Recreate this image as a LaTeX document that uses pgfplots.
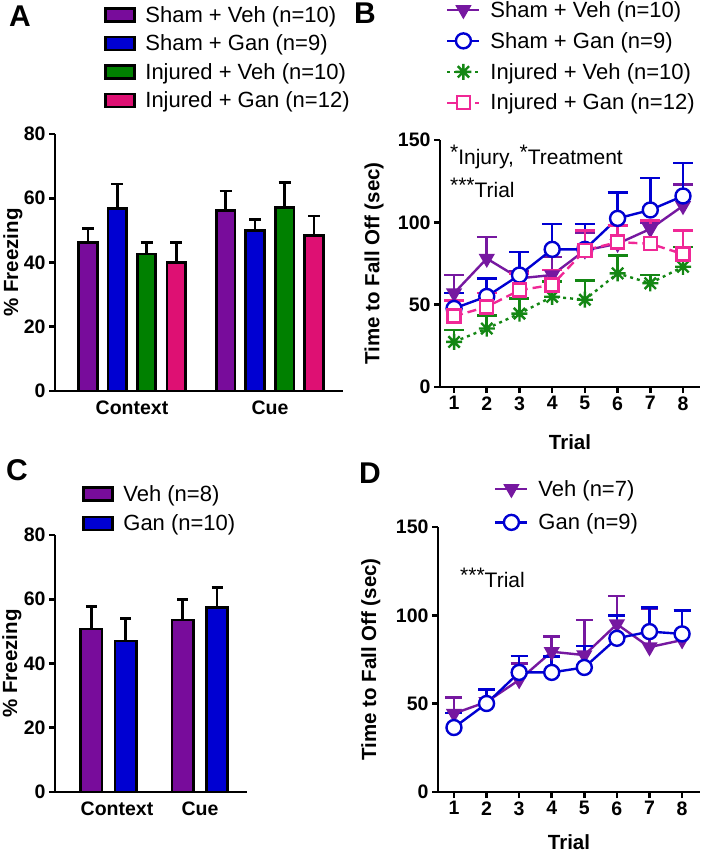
\documentclass[border=0pt]{standalone}
\usepackage{pgfplots}
\pgfplotsset{compat=1.18}
\usepackage{fontspec}
\setmainfont{Liberation Sans}
\definecolor{cpur}{RGB}{120,12,155}
\definecolor{cblu}{RGB}{0,0,210}
\definecolor{cgrn}{RGB}{0,128,0}
\definecolor{cpnk}{RGB}{222,16,115}
\definecolor{lpur}{RGB}{118,24,160}
\definecolor{lpnk}{RGB}{240,40,150}
\definecolor{lgrn}{RGB}{20,135,20}
\pgfdeclareplotmark{star8}{%
 \pgfpathmoveto{\pgfqpoint{-\pgfplotmarksize}{0pt}}\pgfpathlineto{\pgfqpoint{\pgfplotmarksize}{0pt}}%
 \pgfpathmoveto{\pgfqpoint{0pt}{-\pgfplotmarksize}}\pgfpathlineto{\pgfqpoint{0pt}{\pgfplotmarksize}}%
 \pgfpathmoveto{\pgfqpoint{-.707\pgfplotmarksize}{-.707\pgfplotmarksize}}\pgfpathlineto{\pgfqpoint{.707\pgfplotmarksize}{.707\pgfplotmarksize}}%
 \pgfpathmoveto{\pgfqpoint{-.707\pgfplotmarksize}{.707\pgfplotmarksize}}\pgfpathlineto{\pgfqpoint{.707\pgfplotmarksize}{-.707\pgfplotmarksize}}%
 \pgfusepathqstroke}
\pgfplotsset{
 base/.style={scale only axis, axis lines=left, axis line style={-, line width=2.6pt, black},
   tick style={line width=2.6pt, black}, tick align=outside, major tick length=6pt,
   tick label style={font=\fontsize{19.5}{19.5}\selectfont\bfseries},
   label style={font=\fontsize{20.5}{20.5}\selectfont\bfseries},
   /pgf/number format/assume math mode=true, clip=false,
   legend cell align=left},
 boxlegend/.style={legend image code/.code={\draw[##1, draw=black, line width=2.4pt] (0pt,-6.5pt) rectangle (29pt,6.5pt); \path[draw=none, fill=none] (0pt,0pt) rectangle (38pt,0.1pt);}},
 linelegend/.style={legend image code/.code={\draw[mark repeat=2,mark phase=2,##1] plot coordinates {(0pt,0pt) (16pt,0pt) (32pt,0pt)}; \path[draw=none, fill=none] (0pt,0pt) rectangle (41pt,0.1pt);}},
 errb/.style={/pgfplots/error bars/y dir=plus, /pgfplots/error bars/y explicit,
   /pgfplots/every error bar/.append style={line width=2.6pt, solid},
   /pgfplots/error bars/error bar style={line width=2.6pt, solid},
   /pgfplots/error bars/error mark options={rotate=90, line width=2.6pt, mark size=#1, solid}},
 barp/.style={fill=#1, draw=black, line width=2.6pt, boxlegend},
}
\begin{document}
\begin{tikzpicture}[x=1pt,y=1pt]
\path[use as bounding box] (0,0) rectangle (702,-853);
\node[font=\fontsize{30}{30}\selectfont\bfseries] at (20,-16) {A};
\node[font=\fontsize{30}{30}\selectfont\bfseries] at (365,-13) {B};
\node[font=\fontsize{30}{30}\selectfont\bfseries] at (17,-470) {C};
\node[font=\fontsize{30}{30}\selectfont\bfseries] at (370,-473) {D};

% ---------------- Panel A
\begin{axis}[base, at={(55pt,-391pt)}, anchor=south west, width=288pt, height=257pt,
  xmin=0, xmax=288, ymin=0, ymax=80, ytick={0,20,40,60,80},
  xtick={77,215}, xticklabels={Context,Cue}, x tick style={draw=none},
  ylabel={\% Freezing}, ylabel style={at={(axis description cs:-0.146,0.5)}, anchor=center},
  ybar, bar width=18.5, bar shift=0pt,
  legend style={at={(0,1)}, anchor=north west, xshift=46pt, yshift=132pt, draw=none, fill=none,
    font=\fontsize{22}{22}\selectfont, row sep=7pt}]
\addplot[barp=cpur, errb=6pt] coordinates {(33,46.3) +- (0,4.3) (170.7,56.2) +- (0,6.0)};
\addplot[barp=cblu, errb=6pt] coordinates {(62.3,56.8) +- (0,7.6) (200,50.0) +- (0,3.4)};
\addplot[barp=cgrn, errb=6pt] coordinates {(91.5,42.6) +- (0,3.7) (229.7,57.1) +- (0,7.8)};
\addplot[barp=cpnk, errb=6pt] coordinates {(121.2,40.0) +- (0,6.3) (259,48.4) +- (0,6.1)};
\legend{Sham + Veh (n=10), Sham + Gan (n=9), Injured + Veh (n=10), Injured + Gan (n=12)}
\end{axis}

% ---------------- Panel B
\begin{axis}[base, at={(440pt,-387pt)}, anchor=south west, width=260pt, height=247pt,
  xmin=0.57, xmax=8.52, ymin=0, ymax=150, ytick={0,50,100,150}, xtick={1,...,8},
  xlabel={Trial}, ylabel={Time to Fall Off (sec)},
  ylabel style={at={(axis description cs:-0.254,0.5)}, anchor=center},
  xlabel style={at={(axis description cs:0.5,0)}, anchor=center, yshift=-55pt},
  legend style={at={(0,1)}, anchor=north west, xshift=3pt, yshift=143pt, draw=none, fill=none,
    font=\fontsize{22}{22}\selectfont, row sep=9.5pt}]
\addplot[lpur, line width=2.4pt, mark=triangle*, mark size=7pt, mark options={rotate=180, solid, fill=lpur}, errb=10pt, linelegend]
 coordinates {(1,57) +- (0,11) (2,78) +- (0,13) (3,66) +- (0,4) (4,68) +- (0,11) (5,83) +- (0,11) (6,87) +- (0,11) (7,96) +- (0,4) (8,110) +- (0,13)};
\addplot[cblu, line width=2.4pt, mark=*, mark size=7.5pt, mark options={solid, fill=white}, errb=10pt, linelegend]
 coordinates {(1,47.7) +- (0,9.3) (2,55) +- (0,11) (3,68) +- (0,14) (4,83.6) +- (0,15.4) (5,83.6) +- (0,15.4) (6,102.4) +- (0,15.6) (7,107.5) +- (0,19.5) (8,116) +- (0,20)};
\addplot[lgrn, line width=2.4pt, dash pattern=on 3pt off 4pt, mark=star8, mark size=8pt, mark options={solid}, errb=10pt, linelegend]
 coordinates {(1,27.4) +- (0,7.1) (2,35.5) +- (0,8.1) (3,44.6) +- (0,9.2) (4,54.8) +- (0,9.2) (5,53) +- (0,11.5) (6,69) +- (0,11) (7,63) +- (0,5) (8,73) +- (0,12)};
\addplot[lpnk, line width=2.4pt, dash pattern=on 9pt off 5pt, mark=square*, mark size=6.5pt, mark options={solid, fill=white}, errb=10pt, linelegend]
 coordinates {(1,43) +- (0,9.7) (2,48.7) +- (0,8.3) (3,58.8) +- (0,10.2) (4,62) +- (0,9) (5,83) +- (0,12) (6,88) +- (0,10) (7,87) +- (0,14) (8,80.7) +- (0,14.3)};
\legend{Sham + Veh (n=10), Sham + Gan (n=9), Injured + Veh (n=10), Injured + Gan (n=12)}
\node[anchor=base west, font=\fontsize{21}{21}\selectfont, inner sep=0pt] at (axis description cs:0.038,0.899) {\raisebox{5pt}{*}Injury, \raisebox{5pt}{*}Treatment};
\node[anchor=base west, font=\fontsize{21}{21}\selectfont, inner sep=0pt] at (axis description cs:0.038,0.769) {\raisebox{5pt}{***}Trial};
\end{axis}

% ---------------- Panel C
\begin{axis}[base, at={(55pt,-792pt)}, anchor=south west, width=192pt, height=257pt,
  xmin=0, xmax=192, ymin=0, ymax=80, ytick={0,20,40,60,80},
  xtick={62,145}, xticklabels={Context,Cue}, x tick style={draw=none},
  ylabel={\% Freezing}, ylabel style={at={(axis description cs:-0.224,0.5)}, anchor=center},
  ybar, bar width=21.4, bar shift=0pt,
  legend style={at={(0,1)}, anchor=north west, xshift=24pt, yshift=54pt, draw=none, fill=none,
    font=\fontsize{22}{22}\selectfont, row sep=8pt}]
\addplot[barp=cpur, errb=5.5pt] coordinates {(36.3,50.7) +- (0,7.0) (127.7,53.5) +- (0,6.5)};
\addplot[barp=cblu, errb=5.5pt] coordinates {(70.5,47.0) +- (0,7.0) (162,57.5) +- (0,6.1)};
\legend{Veh (n=8), Gan (n=10)}
\end{axis}

% ---------------- Panel D
\begin{axis}[base, at={(438pt,-792pt)}, anchor=south west, width=262pt, height=265pt,
  xmin=0.51, xmax=8.55, ymin=0, ymax=150, ytick={0,50,100,150}, xtick={1,...,8},
  xlabel={Trial}, ylabel={Time to Fall Off (sec)},
  ylabel style={at={(axis description cs:-0.256,0.5)}, anchor=center},
  xlabel style={at={(axis description cs:0.5,0)}, anchor=center, yshift=-50pt},
  legend style={at={(0,1)}, anchor=north west, xshift=53pt, yshift=51pt, draw=none, fill=none,
    font=\fontsize{22}{22}\selectfont, row sep=12pt}]
\addplot[lpur, line width=2.4pt, mark=triangle*, mark size=7pt, mark options={rotate=180, solid, fill=lpur}, errb=8.5pt, linelegend]
 coordinates {(1,44.4) +- (0,9.1) (2,51) +- (0,6.7) (3,63.4) +- (0,9.4) (4,79.4) +- (0,8.6) (5,77.5) +- (0,19.9) (6,95) +- (0,16) (7,82) +- (0,22) (8,86) +- (0,16.7)};
\addplot[cblu, line width=2.4pt, mark=*, mark size=7.5pt, mark options={solid, fill=white}, errb=8.5pt, linelegend]
 coordinates {(1,36.5) +- (0,8.3) (2,50.1) +- (0,7.9) (3,67.7) +- (0,9.3) (4,67.7) +- (0,8.9) (5,70.5) +- (0,12.2) (6,87) +- (0,12.9) (7,90.8) +- (0,13.8) (8,89.5) +- (0,13.2)};
\legend{Veh (n=7), Gan (n=9)}
\node[anchor=base west, font=\fontsize{21}{21}\selectfont, inner sep=0pt] at (axis description cs:0.084,0.770) {\raisebox{5pt}{***}Trial};
\end{axis}
\end{tikzpicture}
\end{document}
